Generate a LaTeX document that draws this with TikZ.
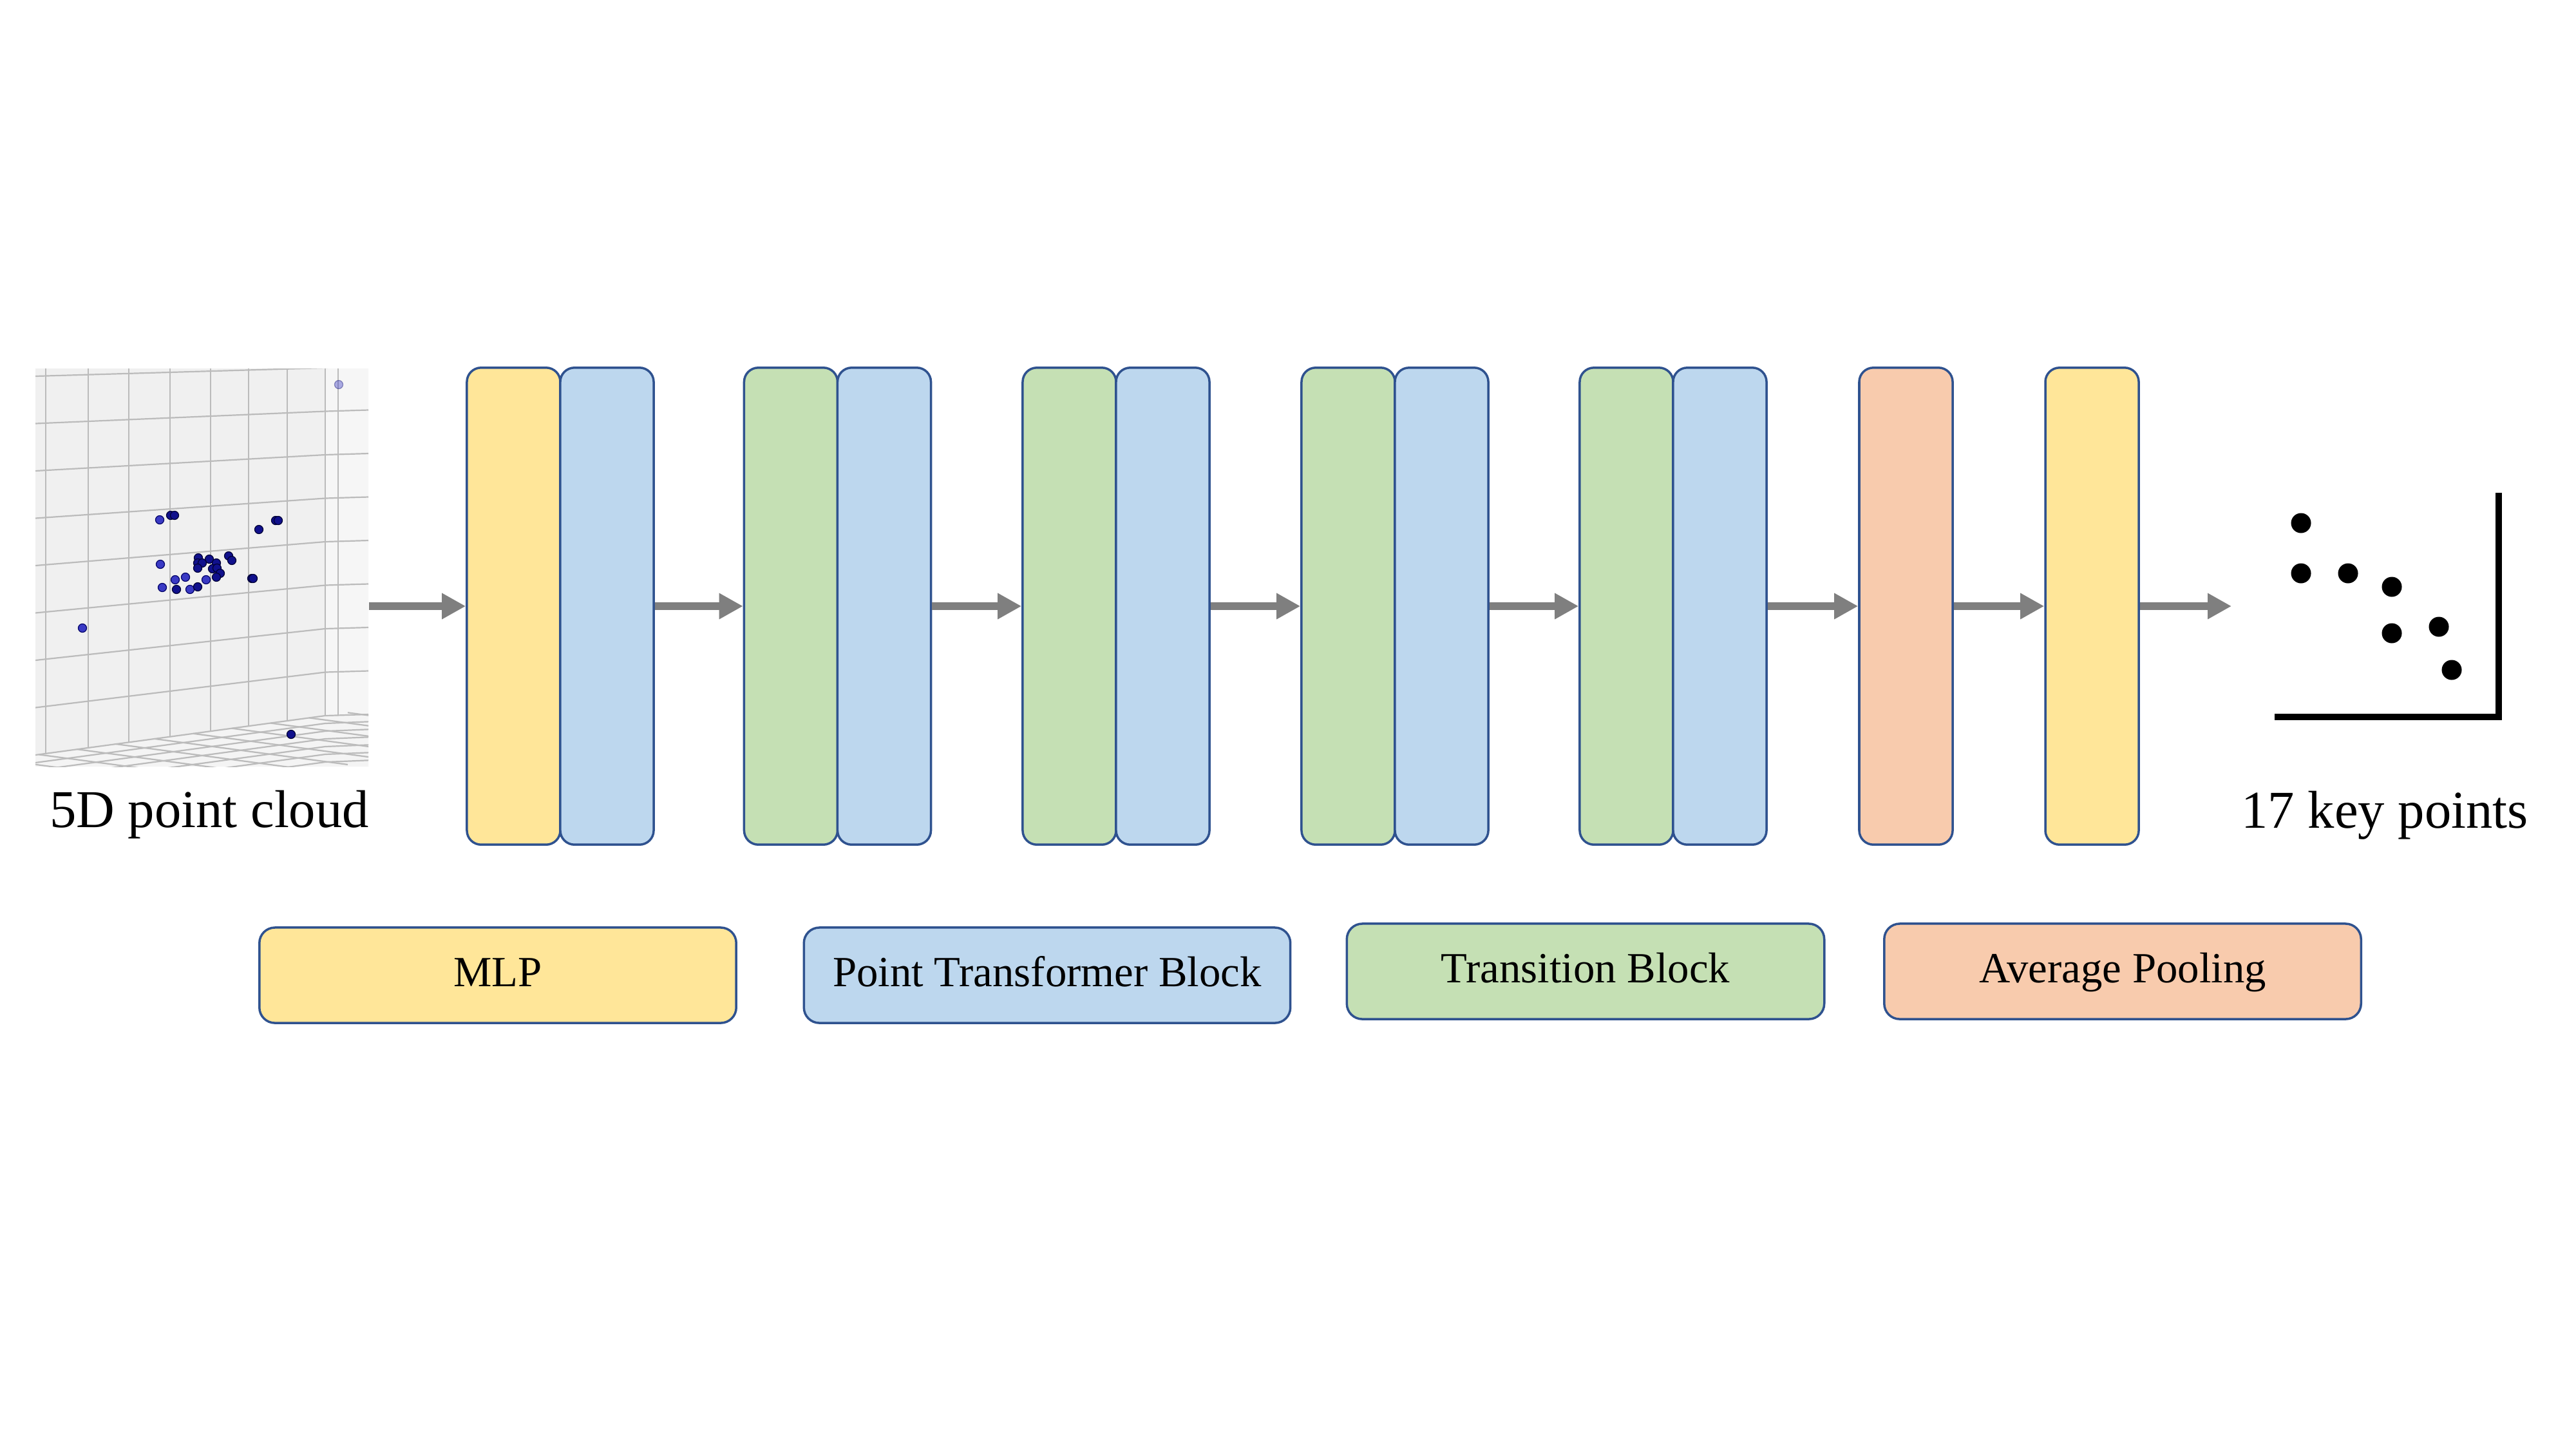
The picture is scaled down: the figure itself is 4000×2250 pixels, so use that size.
\documentclass[tikz,border=0pt]{standalone}
\usepackage{fontspec}
\setmainfont{Liberation Serif}
\usetikzlibrary{arrows.meta}
\definecolor{cyel}{HTML}{FFE699}
\definecolor{cblu}{HTML}{BDD7EE}
\definecolor{cgrn}{HTML}{C5E0B4}
\definecolor{corg}{HTML}{F8CBAD}
\definecolor{cedge}{HTML}{2F528F}
\definecolor{carr}{HTML}{7F7F7F}
\definecolor{cgrid}{HTML}{BBBBBB}
\definecolor{cwall}{HTML}{F0F0F0}
\definecolor{cside}{HTML}{F6F6F6}
\definecolor{cfloor}{HTML}{F4F4F4}
\definecolor{cdotd}{HTML}{10108C}
\definecolor{cdotm}{HTML}{3A3AC4}
\begin{document}
\begin{tikzpicture}[x=0.01cm,y=-0.01cm,
  col/.style={draw=cedge, line width=0.035cm, rounded corners=0.22cm,
    minimum width=1.45cm, minimum height=7.4cm, inner sep=0pt},
  leg/.style={draw=cedge, line width=0.035cm, rounded corners=0.24cm,
    minimum height=1.48cm, inner sep=0pt,
    font=\fontsize{19pt}{22pt}\selectfont, text height=0.98em, text depth=0pt},
  arr/.style={draw=carr, line width=0.128cm,
    -{Triangle[length=0.37cm,width=0.38cm]}},
  lbl/.style={anchor=base, inner sep=0pt, font=\fontsize{23.5pt}{28pt}\selectfont},
  gridln/.style={draw=cgrid, line width=0.022cm},
  ptd/.style={fill=cdotd, draw=black!80!blue, line width=0.012cm},
  ptm/.style={fill=cdotm, draw=black!60!blue, line width=0.012cm},
]
\fill[white] (0,0) rectangle (4000,2250);
\useasboundingbox (0,0) rectangle (4000,2250);

% ---------- point cloud inset ----------
\node[minimum width=5.17cm, minimum height=6.18cm, inner sep=0pt, fill=cwall] (pc) at (313.5,881) {};
\begin{scope}
  \clip (55,572) rectangle (572,1190);
  \fill[cside] (505,572) -- (572,572) -- (572,1109) -- (505,1111) -- cycle;
  \fill[cfloor] (55,1172) -- (505,1111) -- (572,1109) -- (572,1190) -- (55,1190) -- cycle;
  % back wall horizontal grid lines (+ right wall continuation)
  \foreach \i in {0,...,7}
    \draw[gridln] (55,{584+73.5*\i}) -- (505,{571+67.5*\i}) -- (572,{569+67.5*\i});
  % back wall bottom edge
  \draw[gridln] (55,1172) -- (505,1111) -- (572,1109);
  % back wall vertical grid lines
  \foreach \xx in {71,137,200,264,327,386,446,505}
    \draw[gridln] (\xx,560) -- (\xx,{1172-(\xx-55)*0.1356});
  % right wall vertical line
  \draw[gridln] (525,560) -- (525,1110);
  % floor grid
  \foreach \j in {1,...,6}
    \draw[gridln] (40,{1174+12*\j}) -- (505,{1111+12*\j}) -- (580,{1108+12*\j});
  \foreach \xx in {-120,-60,...,560}
    \draw[gridln] (\xx,{1172-(\xx-55)*0.1356}) -- ++(300,40);
  % points
  \foreach \px/\py in {248/807,249/876,288/896,272/900,320/900,252/912,295/915,128/975}
    \filldraw[ptm] (\px,\py) circle (0.065cm);
  \foreach \px/\py in {265/800,271/800,402/822,428/808,432/808,308/866,325/868,336/874,
      307/874,314/874,307/882,355/863,360/870,330/883,337/882,342/890,336/896,
      391/898,393/898,307/911,274/915,452/1140}
    \filldraw[ptd] (\px,\py) circle (0.065cm);
  \filldraw[fill=cdotm, draw=black!60!blue, line width=0.012cm, opacity=0.4] (526,597) circle (0.065cm);
\end{scope}
\node[lbl] (lpc) at (325,1284) {5D point cloud};

% ---------- network columns ----------
\node[col, fill=cyel] (b0a) at (797.5,941) {};
\node[col, fill=cblu] (b0b) at (942.5,941) {};
\node[col, fill=cgrn] (b1a) at (1228,941) {};
\node[col, fill=cblu] (b1b) at (1373,941) {};
\node[col, fill=cgrn] (b2a) at (1660.5,941) {};
\node[col, fill=cblu] (b2b) at (1805.5,941) {};
\node[col, fill=cgrn] (b3a) at (2093.5,941) {};
\node[col, fill=cblu] (b3b) at (2238.5,941) {};
\node[col, fill=cgrn] (b4a) at (2525.5,941) {};
\node[col, fill=cblu] (b4b) at (2670.5,941) {};
\node[col, fill=corg] (bpool) at (2959.5,941) {};
\node[col, fill=cyel] (bmlp) at (3248.5,941) {};

% ---------- arrows ----------
\coordinate (kpin) at (3465,941);
\draw[arr] (pc.east |- b0a.west) -- (b0a.west);
\draw[arr] (b0b.east) -- (b1a.west);
\draw[arr] (b1b.east) -- (b2a.west);
\draw[arr] (b2b.east) -- (b3a.west);
\draw[arr] (b3b.east) -- (b4a.west);
\draw[arr] (b4b.east) -- (bpool.west);
\draw[arr] (bpool.east) -- (bmlp.west);
\draw[arr] (bmlp.east) -- (kpin);

% ---------- key points ----------
\draw[line width=0.096cm, line join=miter] (3532,1113) -- (3880,1113) -- (3880,765);
\foreach \px/\py in {3573/812,3573/890,3646/890,3714/911,3714/983,3787/973,3807/1040}
  \fill[black] (\px,\py) circle (0.155cm);
\node[lbl] (lkp) at (3703,1285) {17 key points};

% ---------- legend ----------
\node[leg, fill=cyel, minimum width=7.4cm] (lgm) at (773,1514) {MLP};
\node[leg, fill=cblu, minimum width=7.55cm] (lgp) at (1626,1514) {Point Transformer Block};
\node[leg, fill=cgrn, minimum width=7.41cm] (lgt) at (2462,1508) {Transition Block};
\node[leg, fill=corg, minimum width=7.4cm] (lga) at (3296,1508) {Average Pooling};
\end{tikzpicture}
\end{document}
